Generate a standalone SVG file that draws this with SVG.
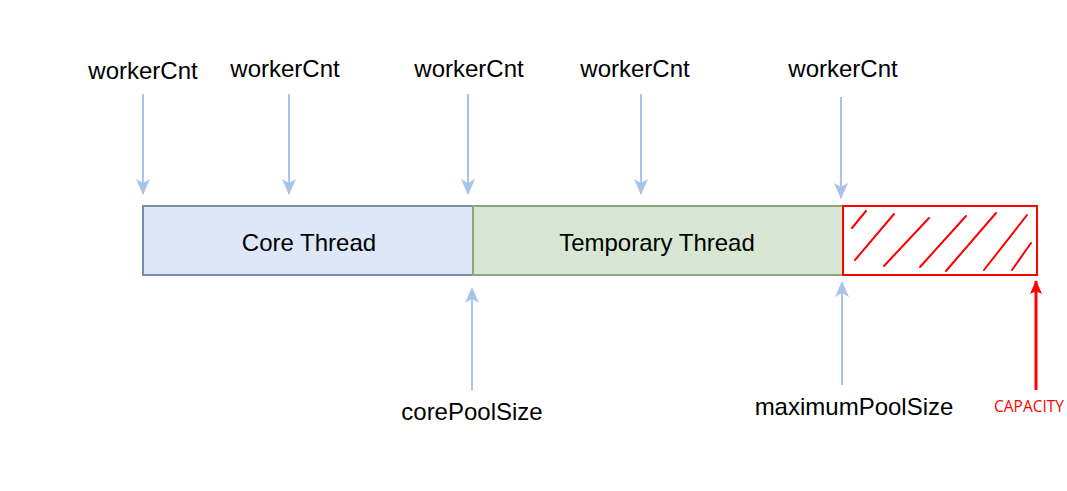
<svg xmlns="http://www.w3.org/2000/svg" width="1067" height="491" viewBox="0 0 1067 491">
<style>
.lbl{font-family:"Liberation Sans",Arial,sans-serif;font-size:24px;fill:#000;text-anchor:middle}
.box{font-family:"Liberation Sans",Arial,sans-serif;font-size:24px;fill:#000;text-anchor:middle}
.cap{font-family:"Open Sans","Liberation Sans",sans-serif;font-size:15.5px;fill:#ff0000;text-anchor:middle}
.blue{stroke:#a9c4eb;stroke-width:2;fill:none}
.red{stroke:#ff0000;stroke-width:3;fill:none}
.hatch{stroke:#ff0000;stroke-width:2;stroke-linecap:round}
</style>
<defs>
<marker id="ab" viewBox="0 0 16 14" refX="15" refY="7" markerWidth="16" markerHeight="14" markerUnits="userSpaceOnUse" orient="auto">
<path d="M0,0 L16,7 L0,14 L4,7 Z" fill="#a9c4eb"/>
</marker>
<marker id="ar" viewBox="0 0 14 12" refX="13" refY="6" markerWidth="14" markerHeight="12" markerUnits="userSpaceOnUse" orient="auto">
<path d="M0,0 L14,6 L0,12 L3,6 Z" fill="#ff0000"/>
</marker>
</defs>
<rect width="1067" height="491" fill="#ffffff"/>
<g id="core">
<rect x="143" y="206" width="330" height="69" fill="#dde7f7" stroke="#7a8ca6" stroke-width="2"/>
<text class="box" x="309" y="251">Core Thread</text>
</g>
<g id="temp">
<rect x="473" y="206" width="370" height="69" fill="#d7e7d3" stroke="#8aa87f" stroke-width="2"/>
<text class="box" x="657" y="251">Temporary Thread</text>
</g>
<g id="capacity-box">
<rect x="843" y="206" width="194" height="69" fill="#ffffff" stroke="#ff0000" stroke-width="2"/>
<line class="hatch" x1="852" y1="228" x2="866" y2="211"/>
<line class="hatch" x1="855" y1="260" x2="894" y2="214"/>
<line class="hatch" x1="884" y1="266" x2="929" y2="218"/>
<line class="hatch" x1="920" y1="267" x2="966" y2="216"/>
<line class="hatch" x1="946" y1="271" x2="996" y2="213"/>
<line class="hatch" x1="984" y1="270" x2="1027" y2="215"/>
<line class="hatch" x1="1012" y1="270" x2="1031" y2="243"/>
</g>
<g id="labels">
<text class="lbl" x="143" y="79">workerCnt</text>
<text class="lbl" x="285" y="77">workerCnt</text>
<text class="lbl" x="469" y="77">workerCnt</text>
<text class="lbl" x="635" y="77">workerCnt</text>
<text class="lbl" x="843" y="77">workerCnt</text>
<text class="lbl" x="472" y="420">corePoolSize</text>
<text class="lbl" x="854" y="415">maximumPoolSize</text>
<text class="cap" x="1029" y="412">CAPACITY</text>
</g>
<g id="connectors">
<line class="blue" x1="143" y1="94" x2="143" y2="194" marker-end="url(#ab)"/>
<line class="blue" x1="289" y1="94" x2="289" y2="194" marker-end="url(#ab)"/>
<line class="blue" x1="468" y1="94" x2="468" y2="194" marker-end="url(#ab)"/>
<line class="blue" x1="641" y1="94" x2="641" y2="194" marker-end="url(#ab)"/>
<line class="blue" x1="841" y1="97" x2="841" y2="198" marker-end="url(#ab)"/>
<line class="blue" x1="472" y1="390" x2="472" y2="288" marker-end="url(#ab)"/>
<line class="blue" x1="842" y1="385" x2="842" y2="282" marker-end="url(#ab)"/>
<line class="red" x1="1036" y1="390" x2="1036" y2="281" marker-end="url(#ar)"/>
</g>
</svg>
